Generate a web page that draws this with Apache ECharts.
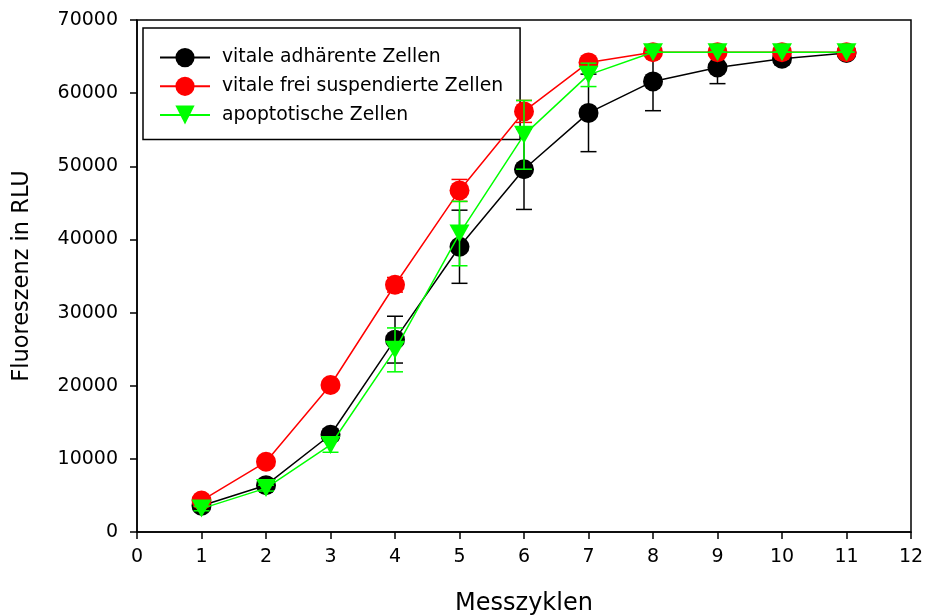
<!DOCTYPE html>
<html><head><meta charset="utf-8">
<script src="https://cdn.jsdelivr.net/npm/echarts@6/dist/echarts.min.js"></script>
<style>html,body{margin:0;padding:0;background:#fff}#c{width:929px;height:615px}</style>
</head><body><div id="c"></div>
<script>
const cycles = [1,2,3,4,5,6,7,8,9,10,11];
const adhName = 'vitale adhärente Zellen';
const susName = 'vitale frei suspendierte Zellen';
const apoName = 'apoptotische Zellen';
const adhVals = [3600, 6400, 13300, 26300, 39000, 49600, 57300, 61600, 63500, 64700, 65500];
const adhErr  = [300, 500, 800, 3200, 5000, 5500, 5300, 4000, 2200, 800, 300];
const susVals = [4300, 9600, 20100, 33800, 46700, 57500, 64200, 65600, 65600, 65600, 65600];
const susErr  = [400, 400, 600, 1000, 1500, 1500, 400, 0, 0, 0, 0];
const apoVals = [3200, 6000, 11900, 24900, 40800, 54300, 62500, 65600, 65600, 65600, 65600];
const apoErr  = [300, 400, 1000, 3000, 4400, 4700, 1600, 0, 0, 0, 0];
const xTicks = [0,1,2,3,4,5,6,7,8,9,10,11,12];
const yTicks = [0,10000,20000,30000,40000,50000,60000,70000];

function errSeries(vals, errs, color, z) {
  return {
    type: 'custom', z: z, silent: true,
    data: cycles.map((c, i) => [c, vals[i] - errs[i], vals[i] + errs[i]]),
    renderItem: function (params, api) {
      const lo = api.coord([api.value(0), api.value(1)]);
      const hi = api.coord([api.value(0), api.value(2)]);
      const w = 8;
      const st = { stroke: color, lineWidth: 1.5 };
      return { type: 'group', children: [
        { type: 'line', shape: { x1: lo[0], y1: lo[1], x2: hi[0], y2: hi[1] }, style: st },
        { type: 'line', shape: { x1: lo[0]-w, y1: lo[1], x2: lo[0]+w, y2: lo[1] }, style: st },
        { type: 'line', shape: { x1: hi[0]-w, y1: hi[1], x2: hi[0]+w, y2: hi[1] }, style: st }
      ]};
    }
  };
}
function lineSeries(name, vals, color, symbol, size, rotate, z) {
  return {
    name: name, type: 'line', z: z,
    data: cycles.map((c, i) => [c, vals[i]]),
    symbol: symbol, symbolSize: size, symbolRotate: rotate, showSymbol: true,
    lineStyle: { color: color, width: 1.5 },
    itemStyle: { color: color, borderWidth: 0 },
    emphasis: { disabled: true }, animation: false
  };
}
const chart = echarts.init(document.getElementById('c'));
const font = 'DejaVu Sans, Liberation Sans, Arial, sans-serif';
chart.setOption({
  animation: false,
  textStyle: { fontFamily: font },
  grid: { left: 137, right: 18, top: 20, bottom: 83, containLabel: false, outerBoundsMode: 'none',
    show: true, borderColor: '#000', borderWidth: 1.5, backgroundColor: 'transparent' },
  legend: {
    left: 143, top: 28, orient: 'vertical',
    padding: [20, 17, 15, 16], itemGap: 9.5, itemWidth: 50, itemHeight: 24,
    borderColor: '#000', borderWidth: 1.5,
    textStyle: { fontSize: 18.8, color: '#000', fontFamily: font, padding: [0,0,0,7] },
    data: [
      { name: adhName },
      { name: susName },
      { name: apoName }
    ]
  },
  xAxis: {
    type: 'value', min: 0, max: 12, interval: 1,
    name: 'Messzyklen', nameLocation: 'middle', nameGap: 60,
    nameTextStyle: { fontSize: 24, color: '#000', fontFamily: font },
    axisLine: { lineStyle: { color: '#000', width: 1.5 } },
    axisTick: { inside: false, length: 7, lineStyle: { color: '#000', width: 1.5 } },
    axisLabel: { fontSize: 19, color: '#000', margin: 16, fontFamily: font,
      formatter: v => xTicks.includes(v) ? String(v) : '' },
    splitLine: { show: false }
  },
  yAxis: {
    type: 'value', min: 0, max: 70000, interval: 10000,
    name: 'Fluoreszenz in RLU', nameLocation: 'middle', nameGap: 103,
    nameTextStyle: { fontSize: 22.5, color: '#000', fontFamily: font },
    axisLine: { lineStyle: { color: '#000', width: 1.5 } },
    axisTick: { inside: false, length: 7, lineStyle: { color: '#000', width: 1.5 } },
    axisLabel: { fontSize: 19, color: '#000', margin: 19, fontFamily: font,
      formatter: v => yTicks.includes(v) ? String(v) : '' },
    splitLine: { show: false }
  },
  series: [
    errSeries(adhVals, adhErr, '#000000', 2),
    lineSeries(adhName, adhVals, '#000000', 'circle', 20, 0, 3),
    errSeries(susVals, susErr, '#ff0000', 4),
    lineSeries(susName, susVals, '#ff0000', 'circle', 20, 0, 5),
    errSeries(apoVals, apoErr, '#00ff00', 6),
    lineSeries(apoName, apoVals, '#00ff00', 'triangle', [20, 18], 180, 7)
  ]
});
</script></body></html>
